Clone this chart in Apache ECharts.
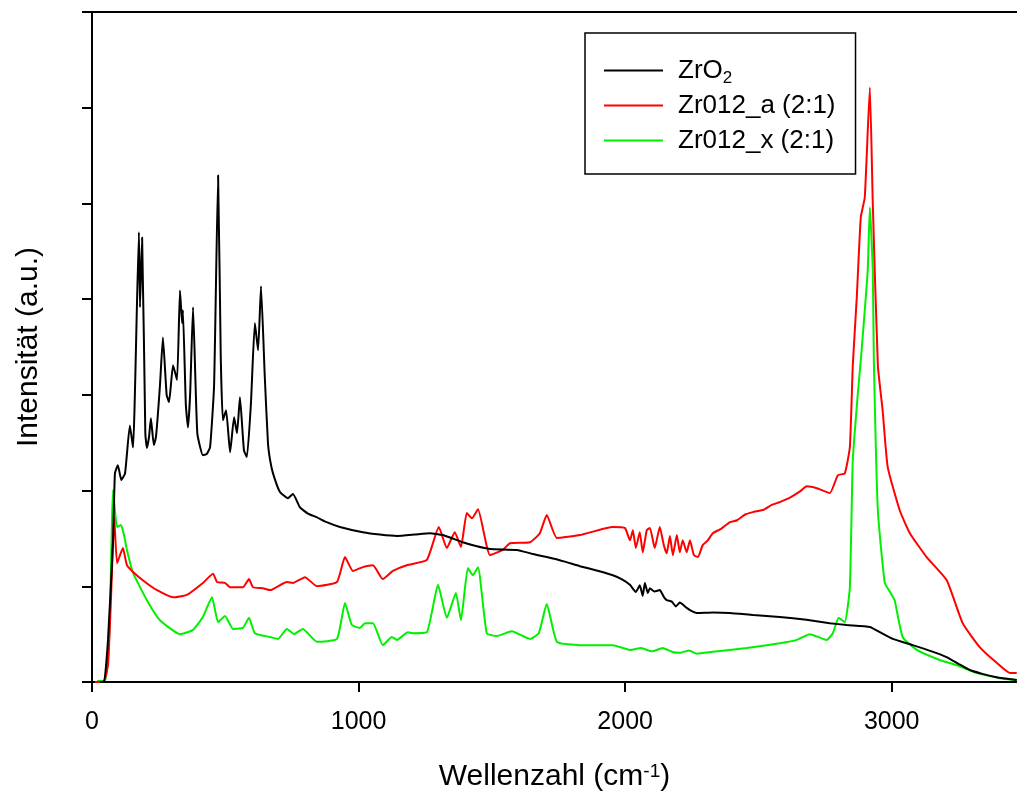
<!DOCTYPE html>
<html>
<head>
<meta charset="utf-8">
<script src="https://cdn.jsdelivr.net/npm/echarts@6/dist/echarts.min.js"></script>
<style>
html,body{margin:0;padding:0;background:#fff;}
#chart{width:1017px;height:794px;}
</style>
</head>
<body>
<div id="chart"></div>
<script>
// Wavenumber (cm^-1) vs intensity (a.u.) pairs
const seriesNames = ['ZrO2', 'Zr012_a (2:1)', 'Zr012_x (2:1)'];
const seriesColors = ['#000000', '#ff0000', '#00f000'];
const xTicks = [0, 1000, 2000, 3000];

const zrO2 = [[30,0],[45,0],[60,440],[79,1480],[86,2180],[97,2265],[110,2110],[124,2180],[142,2680],[154,2450],[176,4700],[180,3915],[188,4645],[200,2600],[206,2445],[214,2560],[221,2755],[232,2475],[240,2560],[255,3100],[266,3600],[280,3000],[289,2925],[304,3310],[319,3155],[330,4090],[338,3750],[341,3885],[352,2900],[360,2660],[368,3000],[379,3915],[395,2600],[416,2370],[430,2380],[443,2455],[458,3100],[473,5295],[483,3400],[491,2735],[503,2840],[518,2400],[533,2765],[544,2600],[555,2975],[570,2420],[581,2350],[596,2900],[611,3750],[623,3465],[634,4135],[648,3200],[660,2500],[668,2320],[679,2180],[705,1985],[735,1920],[754,1965],[780,1825],[810,1760],[844,1720],[880,1670],[930,1620],[1016,1565],[1080,1540],[1144,1525],[1210,1540],[1268,1555],[1316,1535],[1391,1460],[1440,1420],[1493,1390],[1594,1380],[1650,1340],[1706,1305],[1770,1260],[1830,1210],[1900,1160],[1954,1115],[1990,1070],[2018,1015],[2040,940],[2055,1010],[2066,900],[2074,1035],[2085,930],[2093,980],[2110,945],[2130,960],[2145,890],[2156,855],[2175,840],[2190,790],[2205,830],[2231,775],[2250,740],[2269,720],[2330,725],[2393,720],[2480,700],[2580,680],[2680,650],[2768,615],[2831,595],[2918,575],[2955,520],[3004,450],[3079,385],[3150,320],[3206,260],[3250,190],[3293,125],[3340,85],[3394,50],[3469,20]];

const zr012a = [[11,0],[45,10],[60,180],[71,855],[79,1480],[83,1720],[86,1585],[94,1240],[105,1325],[116,1400],[131,1220],[154,1150],[199,1045],[244,960],[304,885],[356,910],[416,1035],[454,1130],[469,1045],[499,1035],[518,990],[566,990],[589,1075],[604,990],[641,980],[668,960],[731,1045],[754,1035],[799,1095],[844,1000],[919,1045],[949,1305],[979,1160],[1016,1200],[1054,1220],[1091,1075],[1129,1160],[1181,1220],[1256,1275],[1301,1620],[1331,1400],[1361,1565],[1384,1410],[1406,1765],[1425,1710],[1448,1805],[1493,1325],[1541,1380],[1568,1450],[1643,1460],[1680,1555],[1706,1745],[1744,1505],[1830,1535],[1954,1620],[1999,1610],[2018,1480],[2029,1585],[2040,1400],[2055,1565],[2066,1355],[2081,1585],[2093,1610],[2111,1400],[2130,1620],[2145,1430],[2156,1345],[2168,1525],[2179,1325],[2194,1535],[2205,1355],[2216,1480],[2231,1355],[2243,1480],[2258,1325],[2273,1305],[2291,1430],[2310,1480],[2329,1555],[2360,1600],[2393,1670],[2420,1690],[2450,1750],[2479,1775],[2520,1800],[2550,1850],[2580,1880],[2620,1930],[2660,2000],[2681,2045],[2719,2025],[2768,1975],[2798,2160],[2824,2180],[2843,2455],[2854,3310],[2869,4020],[2884,4855],[2899,5065],[2918,6210],[2929,5000],[2948,3310],[2966,2835],[2985,2245],[3030,1795],[3068,1555],[3131,1305],[3206,1065],[3266,615],[3330,365],[3394,200],[3443,95],[3469,95]];

const zr012x = [[19,10],[49,20],[60,230],[68,785],[75,1690],[79,2005],[86,1795],[94,1620],[109,1640],[120,1535],[131,1380],[154,1140],[206,855],[255,645],[330,500],[379,545],[416,680],[450,885],[473,625],[499,690],[529,555],[566,565],[589,670],[611,510],[668,470],[698,450],[731,555],[758,500],[791,555],[844,420],[919,450],[949,825],[975,595],[1005,565],[1024,615],[1054,615],[1091,385],[1125,470],[1144,440],[1185,520],[1204,510],[1256,520],[1298,1015],[1331,670],[1365,930],[1384,645],[1410,1190],[1429,1115],[1448,1200],[1481,510],[1519,480],[1575,530],[1643,450],[1676,510],[1706,815],[1744,420],[1830,385],[1954,385],[2018,335],[2060,355],[2100,320],[2141,355],[2180,310],[2205,305],[2240,330],[2270,295],[2329,315],[2456,355],[2580,405],[2644,440],[2693,500],[2756,440],[2779,510],[2801,670],[2824,625],[2843,990],[2854,2320],[2873,3015],[2884,3360],[2899,3885],[2910,4300],[2918,4960],[2929,4300],[2933,3360],[2948,1795],[2974,1035],[2996,930],[3011,855],[3041,470],[3094,335],[3180,230],[3244,175],[3319,95],[3405,40],[3469,20]];

const allData = [zrO2, zr012a, zr012x];
const FONT = '"Liberation Sans", Arial, sans-serif';

const chart = echarts.init(document.getElementById('chart'), null, {renderer: 'canvas'});
const option = {
  backgroundColor: '#ffffff',
  animation: false,
  grid: {left: 92, right: 0, top: 12, bottom: 112, containLabel: false, outerBoundsMode: 'none'},
  legend: {
    orient: 'vertical',
    left: 585, top: 33,
    padding: [21, 20, 17, 19],
    itemGap: 2,
    itemWidth: 59,
    itemHeight: 2,
    icon: 'rect',
    backgroundColor: '#ffffff',
    borderColor: '#000000',
    borderWidth: 1.5,
    data: seriesNames,
    formatter: function (name) { return name === 'ZrO2' ? 'ZrO{sub|2}' : name; },
    textStyle: {
      fontFamily: FONT, fontSize: 26, color: '#000', lineHeight: 33,
      padding: [0, 0, 0, 10],
      rich: {sub: {fontFamily: FONT, fontSize: 17, lineHeight: 17, verticalAlign: 'bottom', color: '#000'}}
    }
  },
  xAxis: [{
    type: 'value', min: 0, max: 3470, interval: 1000,
    axisLine: {show: true, onZero: false, lineStyle: {color: '#000', width: 2}},
    axisTick: {show: true, inside: false, length: 10, lineStyle: {color: '#000', width: 2}, customValues: xTicks},
    axisLabel: {show: true, customValues: xTicks, formatter: function (v) { return String(v); },
      fontFamily: FONT, fontSize: 25, color: '#000', margin: 28},
    splitLine: {show: false},
    name: 'Wellenzahl (cm{sup|-1})',
    nameLocation: 'middle', nameGap: 80,
    nameTextStyle: {fontFamily: FONT, fontSize: 30, color: '#000',
      rich: {sup: {fontFamily: FONT, fontSize: 19, verticalAlign: 'top', lineHeight: 19, color: '#000'}}}
  }, {
    type: 'value', position: 'top', min: 0, max: 3470,
    axisLine: {show: true, onZero: false, lineStyle: {color: '#000', width: 2}},
    axisTick: {show: false}, axisLabel: {show: false}, splitLine: {show: false}
  }],
  yAxis: {
    type: 'value', min: 0, max: 7000, interval: 1000,
    axisLine: {show: true, onZero: false, lineStyle: {color: '#000', width: 2}},
    axisTick: {show: true, inside: false, length: 10, lineStyle: {color: '#000', width: 2}},
    axisLabel: {show: false},
    splitLine: {show: false},
    name: 'Intensität (a.u.)',
    nameLocation: 'middle', nameGap: 48,
    nameTextStyle: {fontFamily: FONT, fontSize: 30, color: '#000'}
  },
  series: allData.map(function (d, i) {
    return {
      name: seriesNames[i], type: 'line', data: d,
      symbol: 'none', showSymbol: false, smooth: 0.15,
      lineStyle: {color: seriesColors[i], width: 2},
      itemStyle: {color: seriesColors[i]},
      z: 3 - i
    };
  })
};
chart.setOption(option);
</script>
</body>
</html>
